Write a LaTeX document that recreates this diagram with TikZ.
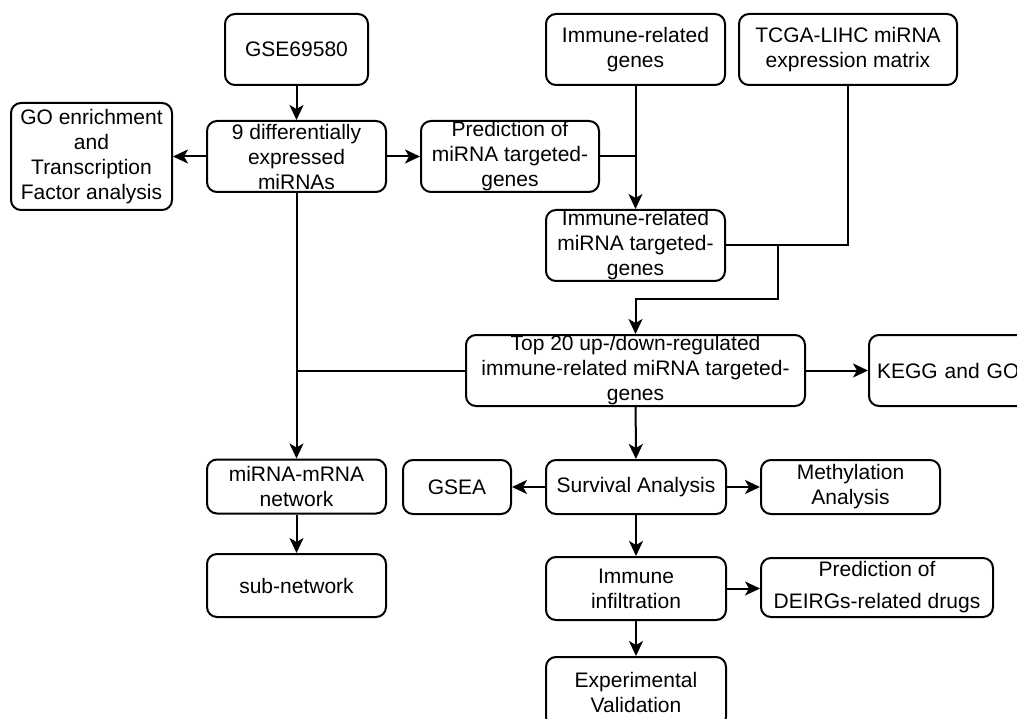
\documentclass[tikz,border=0pt]{standalone}
\usepackage{fontspec}
\setmainfont{Liberation Sans}
\usetikzlibrary{arrows.meta}
\begin{document}
\begin{tikzpicture}[x=1pt, y=-1pt, line width=2pt, >={Stealth[length=15pt,width=14pt,inset=4pt]},
    box/.style={draw, rounded corners=10pt, align=center, inner sep=0pt, font=\fontsize{21}{25}\selectfont}]
    \useasboundingbox (0,0) rectangle (1017,719);
    % left column
    \node[box, minimum width=143, minimum height=71] (gse) at (296.5,49.5) {GSE69580};
    \node[box, minimum width=179, minimum height=71] (dem) at (296.5,156.5) {9 differentially\\expressed\\miRNAs};
    \node[box, minimum width=161, minimum height=107] (go) at (91.5,156.5) {GO enrichment\\and\\Transcription\\Factor analysis};
    \node[box, minimum width=179, minimum height=54] (net) at (296.5,486.5) {miRNA-mRNA\\network};
    \node[box, minimum width=179, minimum height=63] (sub) at (296.5,585.5) {sub-network};
    % upper right
    \node[box, minimum width=178, minimum height=71] (pred) at (510,156.5) {Prediction of\\miRNA targeted-\\genes};
    \node[box, minimum width=179, minimum height=71] (irg) at (635.5,49.5) {Immune-related\\genes};
    \node[box, minimum width=218, minimum height=71] (tcga) at (848,49.5) {TCGA-LIHC miRNA\\expression matrix};
    \node[box, minimum width=179, minimum height=71] (irmt) at (635.5,245.5) {Immune-related\\miRNA targeted-\\genes};
    \node[box, minimum width=339, minimum height=71] (top) at (635.5,370.5) {Top 20 up-/down-regulated\\immune-related miRNA targeted-\\genes};
    \node[box, anchor=west, minimum height=71, text width=172, align=left, inner xsep=8] (kegg) at (868,370.5) {KEGG and GO};
    % lower right
    \node[box, minimum width=108, minimum height=54] (gsea) at (457,487) {GSEA};
    \node[box, minimum width=180, minimum height=54] (surv) at (636,487) {Survival Analysis};
    \node[box, minimum width=179, minimum height=54] (meth) at (850.5,487) {Methylation\\Analysis};
    \node[box, minimum width=180, minimum height=63] (infl) at (636,588.5) {Immune\\infiltration};
    \node[box, minimum width=232, minimum height=59] (drug) at (877,587.5) {Prediction of\\[7pt]DEIRGs-related drugs};
    \node[box, minimum width=180, minimum height=70] (exp) at (636,692) {Experimental\\Validation};
    % junctions
    \coordinate (j1) at (778,245.5);
    \coordinate (j2) at (778,299);
    % connectors
    \draw[->] (gse) -- (dem);
    \draw[->] (dem) -- (go);
    \draw[->] (dem) -- (pred);
    \draw[->] (irg) -- (irmt);
    \draw (pred.east) -- (irg.south |- pred.east);
    \draw (tcga.south) -- (tcga.south |- irmt.east) -- (irmt.east);
    \draw[->] (j1) -- (j2) -- (irmt.south |- j2) -- (top.north);
    \draw[->] (dem) -- (net);
    \draw (top.west) -- (dem.south |- top.west);
    \draw[->] (top.east) -- (kegg.west);
    \draw[->] (net) -- (sub);
    \draw[->] (top) -- (surv);
    \draw[->] (surv) -- (gsea);
    \draw[->] (surv) -- (meth);
    \draw[->] (surv) -- (infl);
    \draw[->] (infl.east) -- (infl.east -| drug.west);
    \draw[->] (infl) -- (exp);
\end{tikzpicture}
\end{document}
